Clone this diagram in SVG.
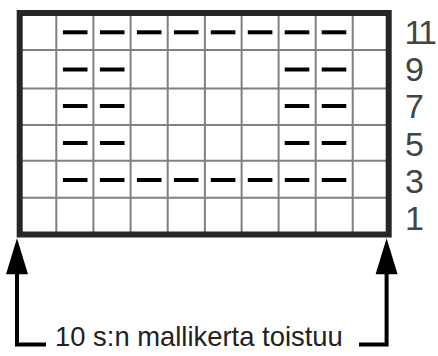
<svg xmlns="http://www.w3.org/2000/svg" width="438" height="356" viewBox="0 0 438 356">
<style>
.grid{stroke:#808080;stroke-width:2;fill:none}
.frame{stroke:#262626;stroke-width:6;fill:none}
.dash{fill:#000}
.num{font-family:"Liberation Sans",Arial,sans-serif;font-size:34px;fill:#444}
.lbl{font-family:"Liberation Sans",Arial,sans-serif;font-size:27.4px;fill:#222}
.conn{stroke:#000;stroke-width:4;fill:none}
</style>
<defs>
<rect id="d" class="dash" x="-12.3" y="-2" width="24.6" height="4"/>
</defs>
<rect width="438" height="356" fill="#fff"/>
<g id="chart">
<g class="grid">
<line x1="56.3" y1="13" x2="56.3" y2="234.5"/>
<line x1="93.4" y1="13" x2="93.4" y2="234.5"/>
<line x1="130.6" y1="13" x2="130.6" y2="234.5"/>
<line x1="167.7" y1="13" x2="167.7" y2="234.5"/>
<line x1="204.9" y1="13" x2="204.9" y2="234.5"/>
<line x1="241.6" y1="13" x2="241.6" y2="234.5"/>
<line x1="278.6" y1="13" x2="278.6" y2="234.5"/>
<line x1="315.7" y1="13" x2="315.7" y2="234.5"/>
<line x1="352.7" y1="13" x2="352.7" y2="234.5"/>
<line x1="19.7" y1="50" x2="388.7" y2="50"/>
<line x1="19.7" y1="88.5" x2="388.7" y2="88.5"/>
<line x1="19.7" y1="125" x2="388.7" y2="125"/>
<line x1="19.7" y1="160.8" x2="388.7" y2="160.8"/>
<line x1="19.7" y1="197.7" x2="388.7" y2="197.7"/>
</g>
<rect class="frame" x="19.7" y="13" width="369" height="221.5"/>
<g id="dashes">
<use href="#d" x="75.2" y="32.3"/><use href="#d" x="112.2" y="32.3"/><use href="#d" x="149.2" y="32.3"/><use href="#d" x="186.2" y="32.3"/><use href="#d" x="223.1" y="32.3"/><use href="#d" x="260.1" y="32.3"/><use href="#d" x="297" y="32.3"/><use href="#d" x="334" y="32.3"/>
<use href="#d" x="75.2" y="69.5"/><use href="#d" x="112.2" y="69.5"/><use href="#d" x="297" y="69.5"/><use href="#d" x="334" y="69.5"/>
<use href="#d" x="75.2" y="106"/><use href="#d" x="112.2" y="106"/><use href="#d" x="297" y="106"/><use href="#d" x="334" y="106"/>
<use href="#d" x="75.2" y="143"/><use href="#d" x="112.2" y="143"/><use href="#d" x="297" y="143"/><use href="#d" x="334" y="143"/>
<use href="#d" x="75.2" y="180"/><use href="#d" x="112.2" y="180"/><use href="#d" x="149.2" y="180"/><use href="#d" x="186.2" y="180"/><use href="#d" x="223.1" y="180"/><use href="#d" x="260.1" y="180"/><use href="#d" x="297" y="180"/><use href="#d" x="334" y="180"/>
</g>
</g>
<g id="row-numbers" class="num">
<text x="404.5" y="44" letter-spacing="-3">11</text>
<text x="405" y="81">9</text>
<text x="405" y="118">7</text>
<text x="405" y="156">5</text>
<text x="405" y="193">3</text>
<text x="405" y="230">1</text>
</g>
<g id="connectors">
<path class="conn" d="M46 344.5 H17 V270" />
<path d="M17 238.3 L28 274.3 L6 274.3 Z" fill="#000"/>
<path class="conn" d="M359 344.5 H386.6 V270" />
<path d="M386.6 238.3 L397.6 274.3 L375.6 274.3 Z" fill="#000"/>
</g>
<g id="label">
<text class="lbl" x="55" y="346">10 s:n mallikerta toistuu</text>
</g>
</svg>
